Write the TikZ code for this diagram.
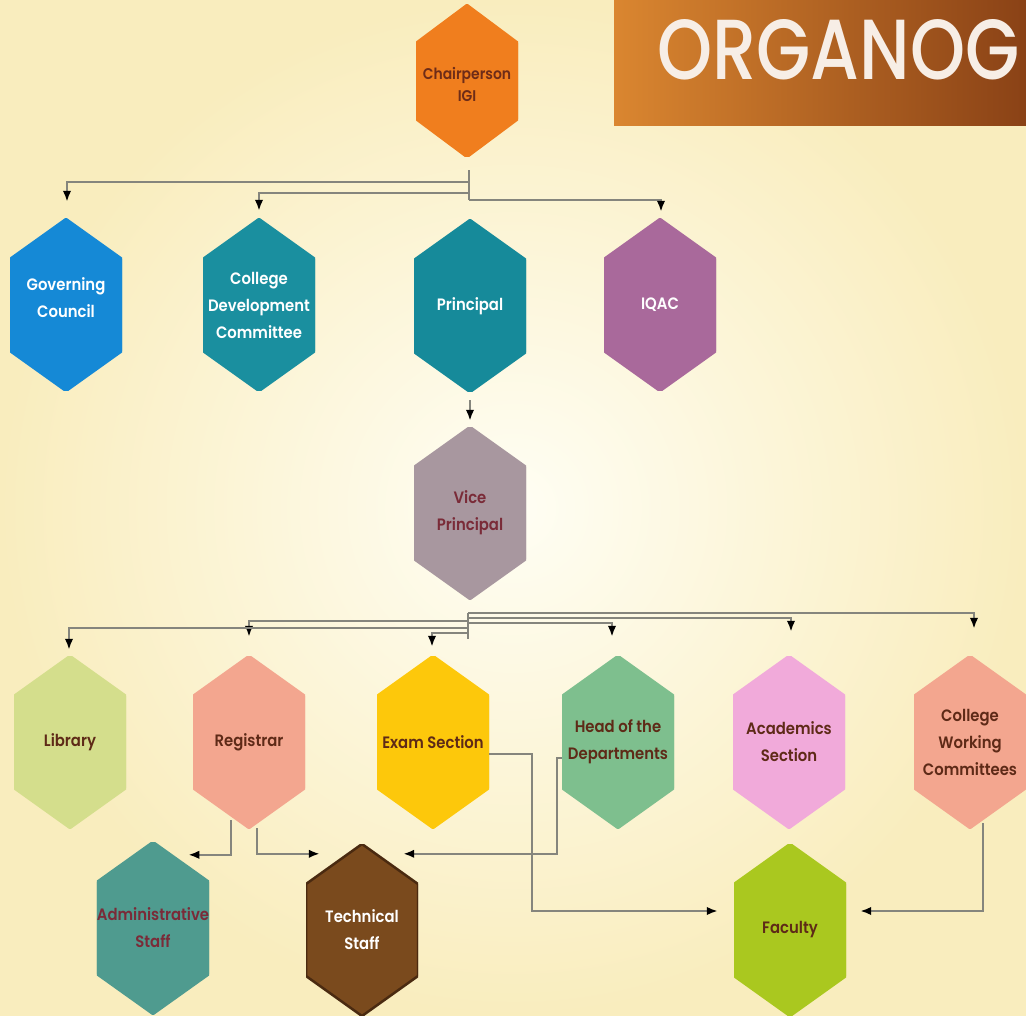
\documentclass[tikz,border=0pt]{standalone}
\usepackage{fontspec}
\setmainfont{Poppins}
\newfontfamily\hexfont{Poppins SemiBold}[FakeStretch=0.9]
\newfontfamily\titlefont{Poppins Medium}
\usetikzlibrary{arrows.meta,calc}
\definecolor{bgin}{HTML}{FFFEF4}
\definecolor{bgout}{HTML}{F9EDBE}
\definecolor{banL}{HTML}{DA8630}
\definecolor{banR}{HTML}{8A4216}
\definecolor{titlec}{HTML}{F7EEE6}
\definecolor{lnc}{HTML}{85857D}
\definecolor{cChair}{HTML}{F07E1E}
\definecolor{cGov}{HTML}{1589D6}
\definecolor{cCdc}{HTML}{1A8F9F}
\definecolor{cPrin}{HTML}{168A9A}
\definecolor{cIqac}{HTML}{A9699B}
\definecolor{cVp}{HTML}{A8979F}
\definecolor{cLib}{HTML}{D4DE8C}
\definecolor{cReg}{HTML}{F3A68F}
\definecolor{cExam}{HTML}{FDC80B}
\definecolor{cHod}{HTML}{7EBF8E}
\definecolor{cAcad}{HTML}{F1AADA}
\definecolor{cCwc}{HTML}{F3A68F}
\definecolor{cAdm}{HTML}{4F9B8F}
\definecolor{cTech}{HTML}{7A4A1D}
\definecolor{cTechD}{HTML}{4A2A10}
\definecolor{cFac}{HTML}{AAC81F}
\definecolor{tDark}{HTML}{5E2A17}
\definecolor{tMaroon}{HTML}{7A2B38}
\definecolor{tChair}{HTML}{6E2C18}
\begin{document}
\begin{tikzpicture}[x=1pt,y=-1pt,
  hexfill/.code={\def\hexcol{#1}},
  hexdraw/.code={\def\hexdrawcol{#1}},
  hext/.code={\def\hext{#1}},
  hex/.style={inner sep=0pt, align=center,
    font={\hexfont\fontsize{16.5}{27}\selectfont},
    minimum width=112pt, minimum height=172pt,
    hexfill=#1, hexdraw=#1,
    path picture={\filldraw[fill=\hexcol, draw=\hexdrawcol, line width=2.5pt, line join=miter]
      (path picture bounding box.north)
      -- ([yshift=-\hext]path picture bounding box.north east)
      -- ([yshift=\hext]path picture bounding box.south east)
      -- (path picture bounding box.south)
      -- ([yshift=\hext]path picture bounding box.south west)
      -- ([yshift=-\hext]path picture bounding box.north west) -- cycle;}},
  cline/.style={draw=lnc, line width=2.3pt},
  conn/.style={cline, -{Latex[length=11pt,width=8.5pt,color=black]}},
  hext=40pt
]
\useasboundingbox (0,0) rectangle (1026,1016);
\shade[inner color=bgin, outer color=bgout] (0,0) rectangle (1026,1016);
% banner
\node[inner sep=0pt, minimum width=412pt, minimum height=125pt, left color=banL, right color=banR, anchor=north west] (banner) at (614,0) {};
\node[inner sep=0pt, anchor=west, text=titlec, font=\titlefont] (title) at (657,50) {\resizebox{362pt}{60pt}{ORGANOG}};

% hexagons
\node[hex=cChair, hext=38pt, minimum width=102pt, minimum height=152pt, text=tChair, font={\hexfont\fontsize{15.5}{27}\selectfont}] (chair) at (467,81) {\mbox{}\\[-8pt]Chairperson\\[-5pt]IGI};
\node[hex=cGov, text=white] (gov) at (66,305) {Governing\\Council\\[-12pt]\mbox{}};
\node[hex=cCdc, text=white] (cdc) at (259,305) {College\\Development\\Committee};
\node[hex=cPrin, text=white] (prin) at (470,306) {Principal};
\node[hex=cIqac, text=white] (iqac) at (660,305) {IQAC};
\node[hex=cVp, text=tMaroon] (vp) at (470,513) {Vice\\Principal};
\node[hex=cLib, text=tDark] (lib) at (70,742) {Library};
\node[hex=cReg, text=tDark] (reg) at (249,742) {Registrar};
\node[hex=cExam, text=tDark] (exam) at (433,742) {Exam Section};
\node[hex=cHod, text=tDark] (hod) at (618,742) {Head of the\\Departments};
\node[hex=cAcad, text=tDark] (acad) at (789,742) {Academics\\Section};
\node[hex=cCwc, text=tDark] (cwc) at (970,742) {College\\Working\\Committees};
\node[hex=cAdm, text=tMaroon] (admin) at (153,928) {Administrative\\Staff};
\node[hex=cTech, hexdraw=cTechD, text=white] (tech) at (362,930) {Technical\\Staff};
\node[hex=cFac, text=tDark] (fac) at (790,930) {Faculty};

% top connectors
\draw[cline] ($(chair.south)+(2,13)$) -- ($(chair.south)+(2,43)$);
\draw[conn] ($(chair.south)+(2,25)$) -| ($(gov.north)+(1,-17)$);
\draw[conn] ($(chair.south)+(2,36)$) -| ($(cdc.north)+(0,-8)$);
\draw[conn] ($(chair.south)+(2,43)$) -| ($(iqac.north)+(1,-7)$);
\draw[conn] ($(prin.south)+(0,8)$) -- ($(vp.north)+(0,-6)$);

% vice principal connectors
\draw[cline] ($(vp.south)+(-2,14)$) -- ($(vp.south)+(-2,40)$);
\draw[conn] ($(vp.south)+(-2,14)$) -| ($(cwc.north)+(4,-27)$);
\draw[conn] ($(vp.south)+(-2,19)$) -| ($(acad.north)+(2,-24)$);
\draw[conn] ($(vp.south)+(-2,24)$) -| ($(hod.north)+(-6,-19)$);
\draw[conn] ($(vp.south)+(-2,22)$) -| ($(reg.north)+(0,-19)$);
\draw[conn] ($(vp.south)+(-2,29)$) -| ($(lib.north)+(-1,-6)$);
\draw[conn] ($(vp.south)+(-2,34)$) -| ($(exam.north)+(-1,-9)$);

% lower connectors
\draw[conn] ($(reg.south)+(-18,-8)$) |- ($(admin.north east)+(-21,13)$);
\draw[conn] ($(reg.south)+(8,0)$) |- ($(tech.north west)+(14,10)$);
\draw[conn] ($(hod.west)+(0,16)$) -- ++(-5,0) |- ($(tech.north east)+(-15,10)$);
\draw[conn] ($(exam.east)+(0,12)$) -- ++(43,0) |- ($(fac.west)+(-16,-19)$);
\draw[conn] ($(cwc.south)+(13,-5)$) |- ($(fac.east)+(14,-19)$);
\end{tikzpicture}
\end{document}
